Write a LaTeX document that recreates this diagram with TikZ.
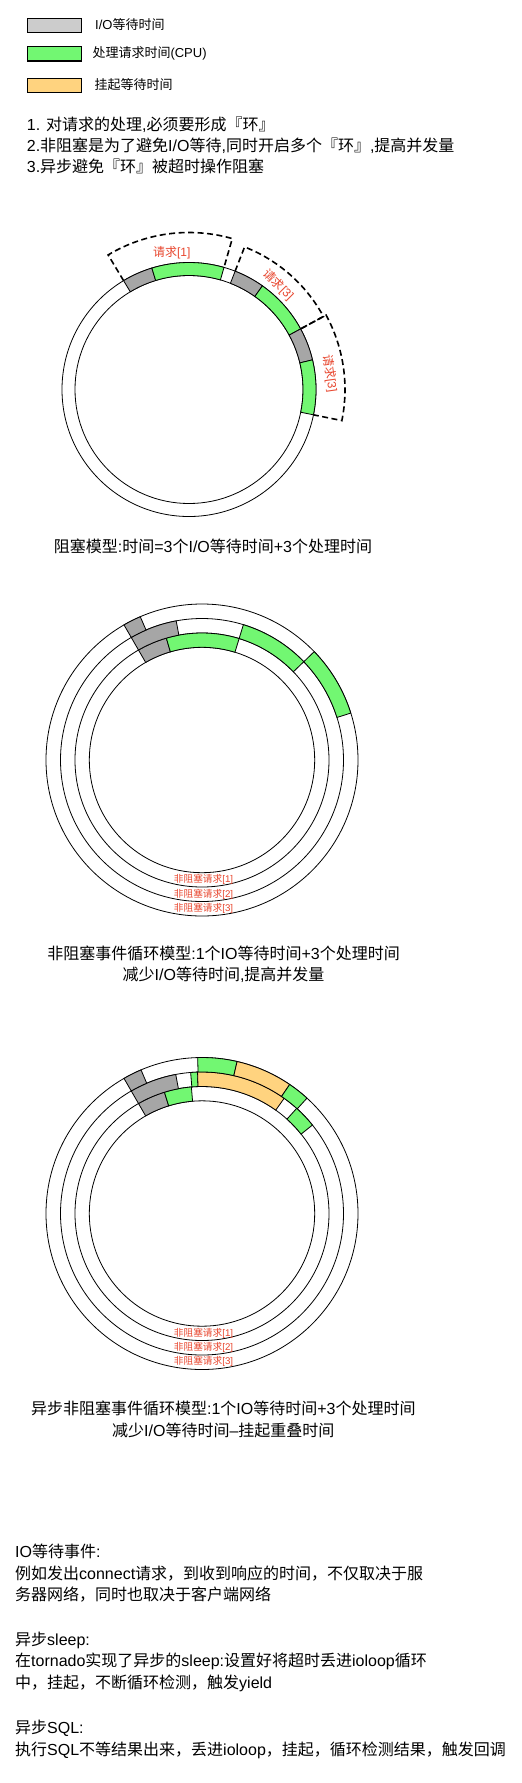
\documentclass[tikz,border=0pt]{standalone}
\usepackage{fontspec}
\setmainfont{Noto Sans CJK SC}
\newfontfamily\lat{Liberation Sans}
\usetikzlibrary{calc}
\definecolor{iogray}{HTML}{A6A6A6}
\definecolor{leggray}{HTML}{CCCCCC}
\definecolor{cpugreen}{HTML}{72F772}
\definecolor{waitorange}{HTML}{FFD37F}
\definecolor{lblred}{HTML}{E8462E}
\tikzset{
 ringline/.style={draw=black, line width=0.8pt},
 segline/.style={draw=black, line width=0.8pt},
 dashbox/.style={draw=black, line width=1.6pt, dash pattern=on 6pt off 3.5pt},
 legbox/.style={draw=black, line width=1.1pt},
 legtxt/.style={anchor=west, inner sep=0pt, font=\fontsize{13}{15}\selectfont},
 bodytxt/.style={anchor=west, inner sep=0pt, font=\fontsize{16}{19}\selectfont},
 captxt/.style={anchor=center, inner sep=0pt, font=\fontsize{16}{19}\selectfont},
 reqlbl/.style={inner sep=0pt, text=lblred, font=\fontsize{12}{14}\selectfont},
 ringlbl/.style={inner sep=0pt, text=lblred, font=\fontsize{9.7}{11}\selectfont},
}
% center, r1, r2, a1, a2, fill
\newcommand\ringseg[6]{\filldraw[segline, fill=#6] ($(#1)+(#4:#3)$) arc[start angle=#4, end angle=#5, radius=#3] -- ($(#1)+(#5:#2)$) arc[start angle=#5, end angle=#4, radius=#2] -- cycle;}
% center, a1, a2, R
\newcommand\dashsector[4]{\draw[dashbox] ($(#1)+(#2:127)$) -- ($(#1)+(#2:#4)$) arc[start angle=#2, end angle=#3, radius=#4] -- ($(#1)+(#3:127)$);}
\begin{document}
\begin{tikzpicture}[x=1pt,y=1pt]
\fill[white] (0,0) rectangle (522,-1783);
\useasboundingbox (0,0) rectangle (522,-1783);

% legend
\filldraw[legbox, fill=leggray] (27.3,-18.3) rectangle (81.7,-32.3);
\filldraw[legbox, fill=cpugreen] (27.3,-46.7) rectangle (81.7,-61);
\filldraw[legbox, fill=waitorange] (27.3,-78.3) rectangle (81.7,-92.3);
\node[legtxt] (leg1) at (95,-25) {{\lat I/O}等待时间};
\node[legtxt] (leg2) at (92.3,-53.3) {处理请求时间{\lat (CPU)}};
\node[legtxt] (leg3) at (94.3,-85) {挂起等待时间};

% notes
\node[bodytxt] (n1) at (26.7,-125) {{\lat 1. }对请求的处理{\lat ,}必须要形成『环』};
\node[bodytxt] (n2) at (26.7,-145.7) {{\lat 2.}非阻塞是为了避免{\lat I/O}等待{\lat ,}同时开启多个『环』{\lat ,}提高并发量};
\node[bodytxt] (n3) at (26.7,-166.7) {{\lat 3.}异步避免『环』被超时操作阻塞};

% ring 1: blocking
\coordinate (c1) at (189,-389.5);
\draw[ringline] (c1) circle[radius=127];
\draw[ringline] (c1) circle[radius=114];
\ringseg{c1}{114}{127}{121}{107}{iogray}
\ringseg{c1}{114}{127}{107}{74}{cpugreen}
\ringseg{c1}{114}{127}{68.7}{54.7}{iogray}
\ringseg{c1}{114}{127}{54.7}{28.5}{cpugreen}
\ringseg{c1}{114}{127}{28.5}{13.5}{iogray}
\ringseg{c1}{114}{127}{13.5}{-11.5}{cpugreen}
\dashsector{c1}{121}{74}{157}
\dashsector{c1}{68.7}{28.5}{153}
\dashsector{c1}{28.5}{-11.5}{156}
\node[reqlbl] (r1) at (171.7,-252.7) {请求{\lat [1]}};
\node[reqlbl, rotate=-45] (r2) at (278.3,-285) {请求{\lat [3]}};
\node[reqlbl, rotate=-82] (r3) at (330,-373.3) {请求{\lat [3]}};
\node[captxt] (cap1) at (213,-546.7) {阻塞模型{\lat :}时间{\lat =3}个{\lat I/O}等待时间{\lat +3}个处理时间};

% ring 2: non-blocking event loop
\coordinate (c2) at (202,-760);
\foreach \r in {156,141.5,127,112.7} \draw[ringline] (c2) circle[radius=\r];
\ringseg{c2}{112.7}{127}{120}{106.3}{iogray}
\ringseg{c2}{112.7}{127}{106.3}{73}{cpugreen}
\ringseg{c2}{127}{141.5}{120}{100.5}{iogray}
\ringseg{c2}{127}{141.5}{73}{44}{cpugreen}
\ringseg{c2}{141.5}{156}{120}{113.3}{iogray}
\ringseg{c2}{141.5}{156}{44}{17.5}{cpugreen}
\node[ringlbl] (b21) at (203.5,-879.5) {非阻塞请求{\lat [1]}};
\node[ringlbl] (b22) at (203.5,-894.2) {非阻塞请求{\lat [2]}};
\node[ringlbl] (b23) at (203.5,-908) {非阻塞请求{\lat [3]}};
\node[captxt] (cap2a) at (223.6,-953.3) {非阻塞事件循环模型{\lat :1}个{\lat IO}等待时间{\lat +3}个处理时间};
\node[captxt] (cap2b) at (223.6,-975) {减少{\lat I/O}等待时间{\lat ,}提高并发量};

% ring 3: async non-blocking event loop
\coordinate (c3) at (202,-1213.5);
\foreach \r in {156,141.5,127,112.7} \draw[ringline] (c3) circle[radius=\r];
\ringseg{c3}{112.7}{127}{120}{107.2}{iogray}
\ringseg{c3}{112.7}{127}{107.2}{94.8}{cpugreen}
\ringseg{c3}{127}{141.5}{120}{100.7}{iogray}
\ringseg{c3}{127}{141.5}{94.6}{91.8}{cpugreen}
\ringseg{c3}{127}{141.5}{91.8}{54.5}{waitorange}
\ringseg{c3}{127}{141.5}{48}{38.7}{cpugreen}
\ringseg{c3}{141.5}{156}{120}{113}{iogray}
\ringseg{c3}{141.5}{156}{91.6}{77}{cpugreen}
\ringseg{c3}{141.5}{156}{77}{55.8}{waitorange}
\ringseg{c3}{141.5}{156}{55.8}{47.7}{cpugreen}
\node[ringlbl] (b31) at (203.5,-1333) {非阻塞请求{\lat [1]}};
\node[ringlbl] (b32) at (203.5,-1347.7) {非阻塞请求{\lat [2]}};
\node[ringlbl] (b33) at (203.5,-1361.5) {非阻塞请求{\lat [3]}};
\node[captxt] (cap3a) at (223.3,-1408.3) {异步非阻塞事件循环模型{\lat :1}个{\lat IO}等待时间{\lat +3}个处理时间};
\node[captxt] (cap3b) at (223.3,-1430) {减少{\lat I/O}等待时间{\lat –}挂起重叠时间};

% explanations
\node[bodytxt] (t1) at (15,-1551.7) {{\lat IO}等待事件{\lat :}};
\node[bodytxt] (t2) at (15,-1573.3) {例如发出{\lat connect}请求，到收到响应的时间，不仅取决于服};
\node[bodytxt] (t3) at (15,-1595) {务器网络，同时也取决于客户端网络};
\node[bodytxt] (t4) at (15,-1640) {异步{\lat sleep:}};
\node[bodytxt] (t5) at (15,-1661.7) {在{\lat tornado}实现了异步的{\lat sleep:}设置好将超时丢进{\lat ioloop}循环};
\node[bodytxt] (t6) at (15,-1683.3) {中，挂起，不断循环检测，触发{\lat yield}};
\node[bodytxt] (t7) at (15,-1728.3) {异步{\lat SQL:}};
\node[bodytxt] (t8) at (15,-1750) {执行{\lat SQL}不等结果出来，丢进{\lat ioloop}，挂起，循环检测结果，触发回调};
\end{tikzpicture}
\end{document}
